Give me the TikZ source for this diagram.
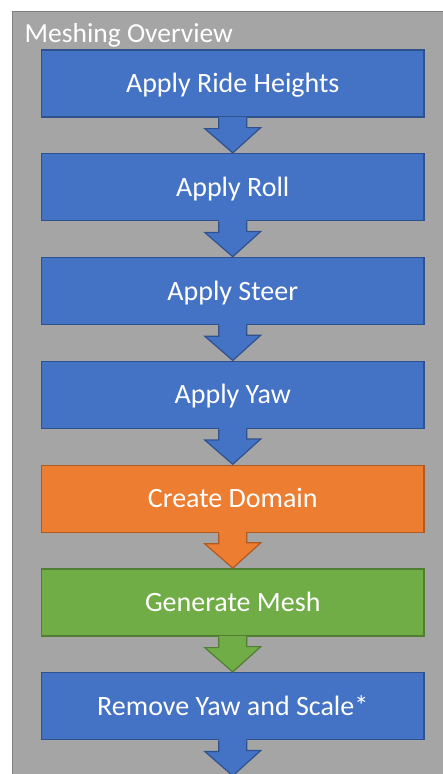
\documentclass[tikz,border=0pt]{standalone}
\usepackage{fontspec}
\setmainfont{Carlito}
\definecolor{frameGray}{HTML}{A5A5A5}
\definecolor{frameLine}{HTML}{7F7F7F}
\definecolor{stepBlue}{HTML}{4472C4}
\definecolor{stepBlueLine}{HTML}{2F528F}
\definecolor{stepOrange}{HTML}{ED7D31}
\definecolor{stepOrangeLine}{HTML}{AE5A21}
\definecolor{stepGreen}{HTML}{70AD47}
\definecolor{stepGreenLine}{HTML}{507E32}
\begin{document}
\begin{tikzpicture}[x=1pt,y=-1pt,
  stepbox/.style={draw, line width=1.2pt, minimum width=382.5pt, minimum height=67pt,
    inner sep=0pt, text=white, font=\fontsize{28}{32}\selectfont,
    text height=18pt, text depth=0pt},
  blueStep/.style={stepbox, fill=stepBlue, draw=stepBlueLine},
  orangeStep/.style={stepbox, fill=stepOrange, draw=stepOrangeLine},
  greenStep/.style={stepbox, fill=stepGreen, draw=stepGreenLine},
  flowarrow/.style={line width=1.2pt, line join=miter},
]
\useasboundingbox (0,0) rectangle (443,774);
\clip (0,0) rectangle (443,774);
% background panel
\draw[fill=frameGray, draw=frameLine, line width=1pt] (12,11) rectangle (460,800);
\node[anchor=base west, text=white, inner sep=0pt, font=\fontsize{27.5}{32}\selectfont]
  (title) at (24.5,42) {Meshing Overview};
% steps
\node[blueStep]   (s1) at (232.75,83.5)  {Apply Ride Heights};
\node[blueStep]   (s2) at (232.75,187.3) {Apply Roll};
\node[blueStep]   (s3) at (232.75,291.1) {Apply Steer};
\node[blueStep]   (s4) at (232.75,394.9) {Apply Yaw};
\node[orangeStep] (s5) at (232.75,498.7) {Create Domain};
\node[greenStep]  (s6) at (232.75,602.5) {Generate Mesh};
\node[blueStep]   (s7) at (232.75,706.3) {Remove Yaw and Scale*};
\coordinate (s8) at (232.75,776.1);
% block arrows between steps
\foreach \a/\b/\f/\l in {s1/s2/stepBlue/stepBlueLine, s2/s3/stepBlue/stepBlueLine,
    s3/s4/stepBlue/stepBlueLine, s4/s5/stepBlue/stepBlueLine,
    s5/s6/stepOrange/stepOrangeLine, s6/s7/stepGreen/stepGreenLine,
    s7/s8/stepBlue/stepBlueLine}{
  \filldraw[flowarrow, fill=\f, draw=\l]
    ([xshift=-14pt]\a.south) -- ++(0,11) -- ++(-14,0) -- ([yshift=0.3pt]\b.north)
    -- ++(28,-25.3) -- ++(-14,0) -- ([xshift=14pt]\a.south);
  \fill[\f] ([xshift=-13.4pt,yshift=-1pt]\a.south) rectangle ([xshift=13.4pt,yshift=1pt]\a.south);
}
\end{tikzpicture}
\end{document}
